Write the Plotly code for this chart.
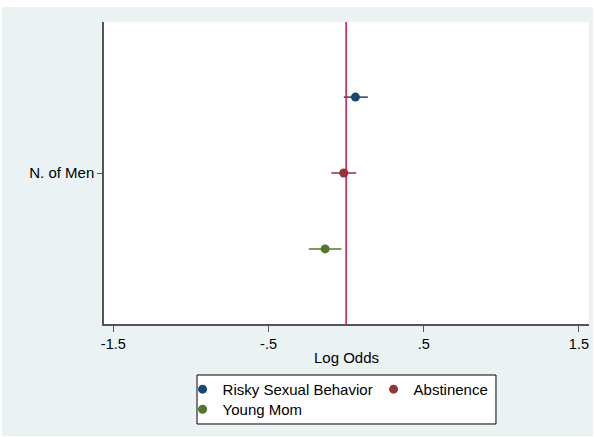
import plotly.graph_objects as go

# Data
series = ["Risky Sexual Behavior", "Abstinence", "Young Mom"]
estimates = [0.06, -0.015, -0.135]
ci_low = [-0.015, -0.095, -0.24]
ci_high = [0.14, 0.065, -0.03]
row_label = "N. of Men"
x_ticks = [-1.5, -0.5, 0.5, 1.5]
x_tick_labels = ["-1.5", "-.5", ".5", "1.5"]

colors = ["#1A476F", "#90353B", "#55752F"]
legend_groups = ["legend", "legend", "legend2"]
FONT = "Liberation Sans, Arial, sans-serif"

fig = go.Figure()
n = len(series)
for i, name in enumerate(series):
    offset = (n - 1) / 2 - i
    fig.add_trace(go.Scatter(
        x=[estimates[i]], y=[offset], name=name, mode="markers",
        marker=dict(color=colors[i], size=9),
        legend=legend_groups[i],
        legendwidth=146 if i == 0 else None,
        error_x=dict(type="data", symmetric=False,
                     array=[ci_high[i] - estimates[i]],
                     arrayminus=[estimates[i] - ci_low[i]],
                     color=colors[i], thickness=1.5, width=0),
    ))

fig.add_shape(type="line", xref="x", yref="paper", x0=0, x1=0, y0=0, y1=1,
              line=dict(color="#D6103C", width=1.5))

# background panel, white plot region, legend frame
fig.add_shape(type="rect", xref="paper", yref="paper", layer="below",
              x0=-0.2103, x1=1.0083, y0=-0.3709, y1=1.0497,
              fillcolor="#EAF2F3", line=dict(width=0))
fig.add_shape(type="rect", xref="paper", yref="paper", layer="below",
              x0=0, x1=1, y0=0, y1=1, fillcolor="white", line=dict(width=0))
fig.add_shape(type="rect", xref="paper", yref="paper", layer="below",
              x0=0.1918, x1=0.8082, y0=-0.3311, y1=-0.1689,
              fillcolor="white", line=dict(color="black", width=1))

leg_common = dict(orientation="h", xanchor="left", yanchor="top",
                  bgcolor="rgba(0,0,0,0)", borderwidth=0,
                  font=dict(size=15), traceorder="normal")

fig.update_layout(
    width=595, height=437,
    margin=dict(l=104, r=6, t=22, b=113),
    paper_bgcolor="white", plot_bgcolor="white",
    font=dict(family=FONT, size=15, color="black"),
    showlegend=True,
    legend=dict(x=0.162, y=-0.162, **leg_common),
    legend2=dict(x=0.162, y=-0.2285, **leg_common),
    xaxis=dict(range=[-1.56, 1.565], tickvals=x_ticks, ticktext=x_tick_labels,
               showgrid=False, zeroline=False, showline=True, linecolor="#555",
               linewidth=1.5, ticks="outside", ticklen=6, tickcolor="#555",
               tickfont=dict(size=14.5),
               title=dict(text="Log Odds", font=dict(size=15), standoff=1)),
    yaxis=dict(range=[-1.99, 1.99], tickvals=[0], ticktext=[row_label],
               showgrid=False, zeroline=False, showline=True, linecolor="#555",
               linewidth=1.5, ticks="outside", ticklen=5, tickcolor="#555",
               tickfont=dict(size=15)),
)

fig.write_html("out.html")
